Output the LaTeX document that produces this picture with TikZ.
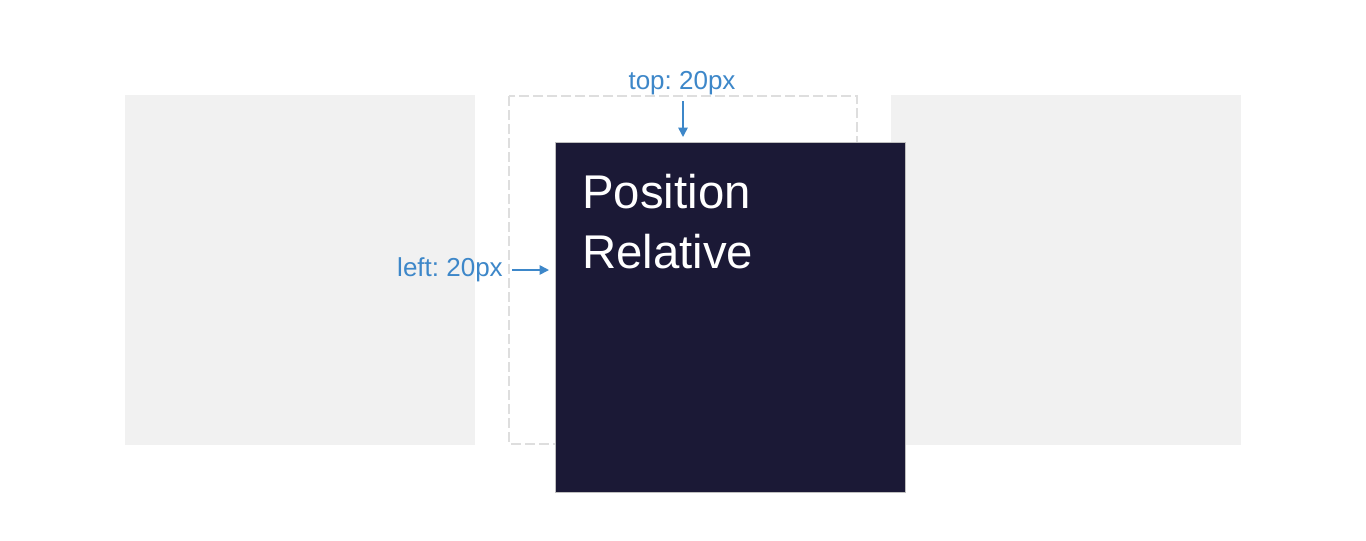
\documentclass[tikz,border=0pt]{standalone}
\usepackage{fontspec}
\setmainfont{Liberation Sans}
\usetikzlibrary{arrows.meta}
\definecolor{boxgray}{HTML}{F1F1F1}
\definecolor{dashgray}{HTML}{DEDEDE}
\definecolor{darkbox}{HTML}{1B1936}
\definecolor{labelblue}{HTML}{3D87C9}
\tikzset{
  graybox/.style={fill=boxgray, draw=none},
  ghost/.style={draw=dashgray, line width=1.8pt, dash pattern=on 7.5pt off 3pt},
  posbox/.style={fill=darkbox, draw=black!25, line width=0.75pt},
  lbl/.style={text=labelblue, font=\frenchspacing\fontsize{19.5}{23}\selectfont, inner sep=0pt},
  measure/.style={draw=labelblue, line width=1.2pt, -{Triangle[length=7pt,width=7pt]}},
  title/.style={text=white, font=\fontsize{35.5}{43}\selectfont, inner sep=0pt, anchor=base west}
}
\begin{document}
\begin{tikzpicture}[x=0.75pt,y=-0.75pt]
\useasboundingbox (0,0) rectangle (1366,540);
\fill[white] (0,0) rectangle (1366,540);
\path[graybox] (125,95) rectangle (475,445);
\path[graybox] (891,95) rectangle (1241,445);
\draw[ghost] (509,96) rectangle (857,444);
\path[posbox] (555,142) rectangle (905,492);
\node[title] (t1) at (582,208) {Position};
\node[title] (t2) at (582,268) {Relative};
\node[lbl, anchor=base] (top) at (682,89) {top: 20px};
\node[lbl, anchor=east] (left) at (503,270) {left: 20px};
\coordinate (topA) at (683,101);
\coordinate (topB) at (683,137);
\coordinate (leftA) at (512,270);
\coordinate (leftB) at (549,270);
\draw[measure] (topA) -- (topB);
\draw[measure] (leftA) -- (leftB);
\end{tikzpicture}
\end{document}
